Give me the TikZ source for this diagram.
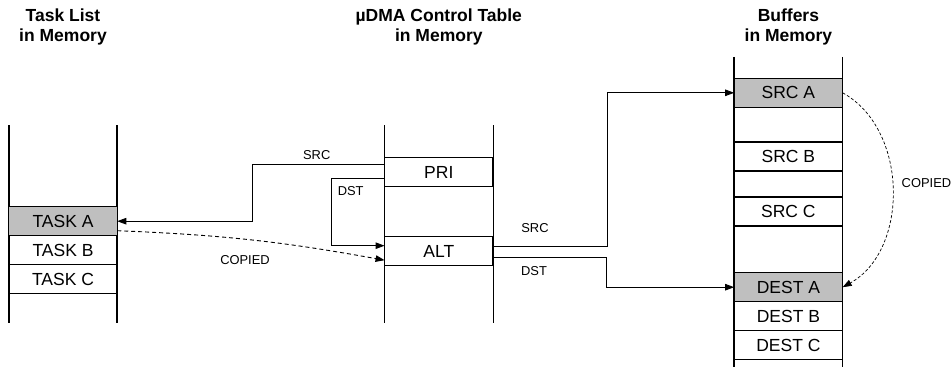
\documentclass[tikz,border=0pt]{standalone}
\usepackage{fontspec}
\setmainfont{Liberation Sans}
\usepackage{tikz}
\usetikzlibrary{positioning,calc,arrows.meta}

\tikzset{
  cell/.style={draw,line width=1.4pt,minimum width=108.5pt,minimum height=29pt,
    inner sep=0pt,outer sep=0pt,font=\fontsize{17.5}{20}\selectfont},
  hot/.style={cell,fill=gray!50},
  colline/.style={line width=1.4pt},
  link/.style={line width=0.9pt,-{Triangle[length=9pt,width=6.5pt]}},
  copied/.style={link,dash pattern=on 4pt off 3pt},
  tag/.style={inner sep=0pt,font=\fontsize{12.9}{14}\selectfont},
  head/.style={anchor=north,align=center,inner sep=0pt,font=\fontsize{17.5}{20}\selectfont\bfseries}
}

\begin{document}
\begin{tikzpicture}[x=1pt,y=1pt]
    \useasboundingbox (0,0) rectangle (952,-377);

    % headings
    \node[head] (hdtask) at (63,-9) {Task List\\in Memory};
    \node[head] (hdctrl) at (438.8,-9) {µDMA Control Table\\in Memory};
    \node[head] (hdbuf) at (788.4,-9) {Buffers\\in Memory};

    % memory columns
    \draw[colline] (9,-125) -- (9,-323) (117,-125) -- (117,-323);
    \draw[colline] (384.3,-125) -- (384.3,-323) (493.3,-125) -- (493.3,-323);
    \draw[colline] (734,-57) -- (734,-367) (842.7,-57) -- (842.7,-367);

    % task list
    \node[hot] (taska) at (63,-221.2) {TASK A};
    \node[cell,below=0pt of taska] (taskb) {TASK B};
    \node[cell,below=0pt of taskb] (taskc) {TASK C};

    % control table
    \node[cell] (pri) at (438.8,-172.2) {PRI};
    \node[cell] (alt) at (438.8,-251.2) {ALT};

    % buffers
    \node[hot] (srca) at (788.4,-92.8) {SRC A};
    \node[cell] (srcb) at (788.4,-156.3) {SRC B};
    \node[cell] (srcc) at (788.4,-211.3) {SRC C};
    \node[hot] (desta) at (788.4,-287.2) {DEST A};
    \node[cell,below=0pt of desta] (destb) {DEST B};
    \node[cell,below=0pt of destb] (destc) {DEST C};

    % primary structure
    \draw[link] ([yshift=8pt]pri.west) -- ++(-132.6,0) |- (taska.east);
    \draw[link] ([yshift=-6pt]pri.west) -- ++(-53.6,0) |- ([yshift=5.5pt]alt.west);
    \node[tag] (lsrc) at (316.7,-154.7) {SRC};
    \node[tag] (ldst) at (350.7,-191.2) {DST};

    \draw[copied] ([yshift=-9.5pt]taska.east) to[bend left=4] ([yshift=-9pt]alt.west);
    \node[tag] (lcopy) at (245,-260.5) {COPIED};

    % alternate structure
    \draw[link] ([yshift=5pt]alt.east) -- ++(114.4,0) |- (srca.west);
    \draw[link] ([yshift=-6.5pt]alt.east) -- ++(113.4,0) |- (desta.west);
    \node[tag] (asrc) at (535,-227.7) {SRC};
    \node[tag] (adst) at (534,-271.3) {DST};

    \draw[link,dash pattern=on 3pt off 2pt,line width=0.7pt] (srca.east) to[out=-29,in=29] (desta.east);
    \node[tag,anchor=west] (bcopy) at (901.5,-183.3) {COPIED};
\end{tikzpicture}
\end{document}
